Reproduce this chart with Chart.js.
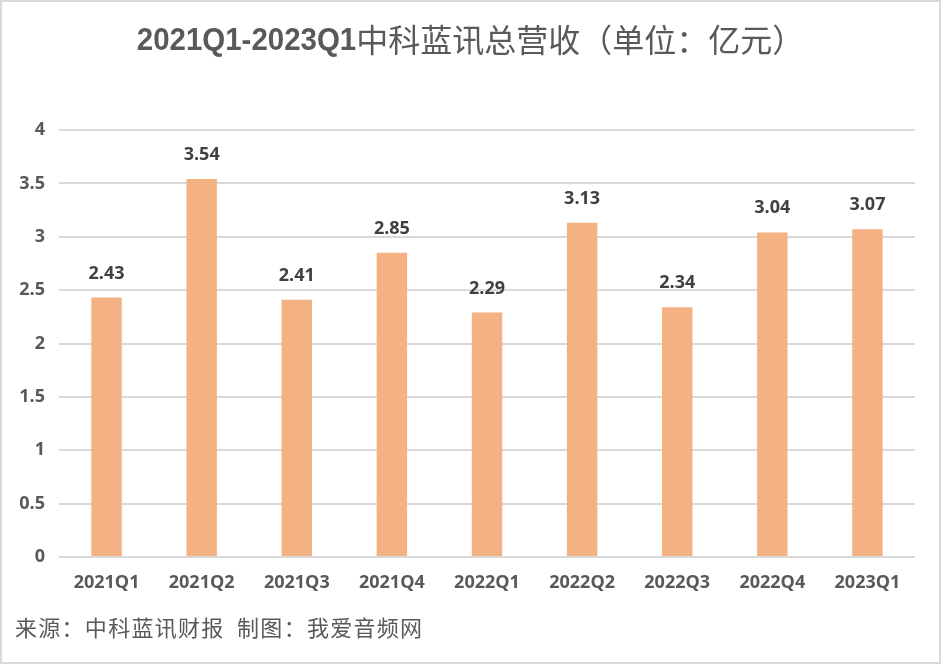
<!DOCTYPE html>
<html>
<head>
<meta charset="utf-8">
<script src="https://cdn.jsdelivr.net/npm/chart.js@4/dist/chart.umd.min.js"></script>
<style>
  html, body { margin: 0; padding: 0; background: #fff; }
  #wrap { width: 941px; height: 664px; }
</style>
</head>
<body>
<div id="wrap"><canvas id="revChart" width="941" height="664"></canvas></div>
<script>
const quarters = ['2021Q1', '2021Q2', '2021Q3', '2021Q4', '2022Q1', '2022Q2', '2022Q3', '2022Q4', '2023Q1'];
const revenue = [2.43, 3.54, 2.41, 2.85, 2.29, 3.13, 2.34, 3.04, 3.07];
const yTicks = [0, 0.5, 1, 1.5, 2, 2.5, 3, 3.5, 4];
const titleLatin = '2021Q1-2023Q1';
const titleCn = '中科蓝讯总营收（单位：亿元）';
const sourceText = '来源：中科蓝讯财报  制图：我爱音频网';

const textGray = '#595959';
const latinFont = 'bold 32px "Liberation Sans", sans-serif';
const cnFont = '32px "Noto Sans CJK SC", sans-serif';

// title, footer, frame and value labels
const decorPlugin = {
    id: 'decor',
    beforeDraw(chart) {
        const c = chart.ctx;
        c.save();
        c.fillStyle = '#fff';
        c.fillRect(0, 0, chart.width, chart.height);
        c.restore();
    },
    afterDraw(chart) {
        const c = chart.ctx;
        c.save();
        // title: condensed bold latin part + chinese part
        const squeeze = 0.92;
        c.fillStyle = textGray;
        c.textBaseline = 'alphabetic';
        c.font = latinFont;
        const w1 = c.measureText(titleLatin).width * squeeze;
        c.font = cnFont;
        const w2 = c.measureText(titleCn).width;
        const x = (chart.width - w1 - w2) / 2;
        c.save();
        c.font = latinFont;
        c.translate(x, 50);
        c.scale(squeeze, 1);
        c.fillText(titleLatin, 0, 0);
        c.restore();
        c.font = cnFont;
        c.fillText(titleCn, x + w1, 52);

        // footer, spread out to the width it has in the picture
        c.font = '22px "Noto Sans CJK SC", sans-serif';
        c.textAlign = 'left';
        c.textBaseline = 'middle';
        const fw = c.measureText(sourceText).width;
        const gap = Math.max(0, (407 - fw) / (sourceText.length - 1));
        c.letterSpacing = gap.toFixed(2) + 'px';
        c.fillText(sourceText, 15, 628);
        c.letterSpacing = '0px';

        // value labels
        c.fillStyle = '#404040';
        c.font = 'bold 18px "Open Sans", sans-serif';
        c.textAlign = 'center';
        c.textBaseline = 'alphabetic';
        const meta = chart.getDatasetMeta(0);
        meta.data.forEach((bar, i) => {
            c.fillText(revenue[i].toFixed(2), bar.x, bar.y - 19);
        });

        // frame
        c.strokeStyle = '#d9d9d9';
        c.lineWidth = 2;
        c.strokeRect(1, 1, chart.width - 2, chart.height - 2);
        c.restore();
    }
};

const ctx = document.getElementById('revChart').getContext('2d');
const chart = new Chart(ctx, {
    type: 'bar',
    data: {
        labels: quarters,
        datasets: [{
            data: revenue,
            backgroundColor: '#F4B183',
            borderWidth: 0,
            barPercentage: 0.32,
            categoryPercentage: 1
        }]
    },
    options: {
        responsive: false,
        animation: false,
        devicePixelRatio: 1,
        layout: { padding: { top: 130, right: 26, left: 0, bottom: 0 } },
        plugins: {
            legend: { display: false },
            title: { display: false },
            tooltip: { enabled: false }
        },
        scales: {
            x: {
                grid: { display: false, drawTicks: false },
                border: { display: false },
                ticks: {
                    color: textGray,
                    font: { family: '"Open Sans", sans-serif', size: 18, weight: 'bold' },
                    padding: 15,
                    maxRotation: 0
                },
                afterFit(scale) { scale.height = 107; }
            },
            y: {
                min: 0,
                max: 4,
                afterBuildTicks(scale) { scale.ticks = yTicks.map(v => ({ value: v })); },
                grid: { color: '#d9d9d9', lineWidth: 2, drawTicks: false },
                border: { display: false },
                ticks: {
                    color: textGray,
                    font: { family: '"Open Sans", sans-serif', size: 18, weight: 'bold' },
                    padding: 14,
                    callback: v => String(v)
                },
                afterFit(scale) { scale.width = 59; }
            }
        }
    },
    plugins: [decorPlugin]
});
</script>
</body>
</html>
